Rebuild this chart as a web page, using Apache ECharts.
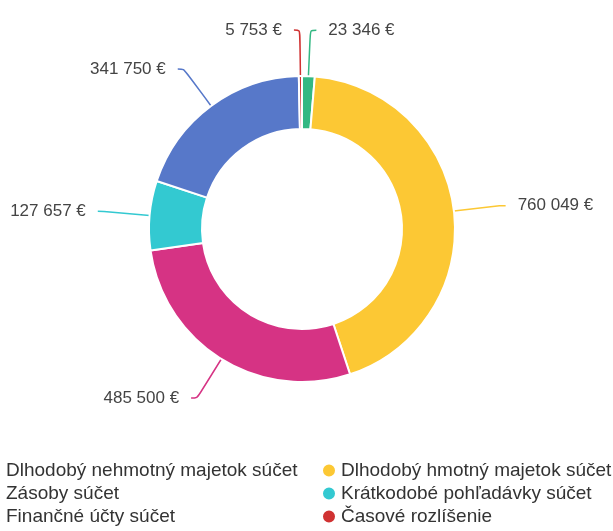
<!DOCTYPE html>
<html>
<head>
<meta charset="utf-8">
<script src="https://cdn.jsdelivr.net/npm/echarts@6/dist/echarts.min.js"></script>
<style>html,body{margin:0;padding:0;background:#fff;}#c{width:613px;height:531px;}</style>
</head>
<body>
<div id="c"></div>
<script>
const categories = [
  'Dlhodobý nehmotný majetok súčet',
  'Dlhodobý hmotný majetok súčet',
  'Zásoby súčet',
  'Krátkodobé pohľadávky súčet',
  'Finančné účty súčet',
  'Časové rozlíšenie'
];
const values = [23346, 760049, 485500, 127657, 341750, 5753];
const colors = ['#33b883', '#fcc834', '#d63384', '#33c9d1', '#5778c9', '#d03232'];
const leftLegend = [categories[0], categories[2], categories[4]];
const rightLegend = [categories[1], categories[3], categories[5]];

function fmt(v) {
  return String(v).replace(/\B(?=(\d{3})+(?!\d))/g, ' ') + ' €';
}

const chart = echarts.init(document.getElementById('c'));
const legendCommon = {
  orient: 'vertical',
  top: 461,
  padding: 0,
  icon: 'circle',
  itemWidth: 14,
  itemHeight: 14,
  itemGap: 4,
  textStyle: { fontFamily: 'Liberation Sans, Arial, sans-serif', fontSize: 19, color: '#333' }
};
chart.setOption({
  color: colors,
  animation: false,
  legend: [
    Object.assign({}, legendCommon, { left: -14, data: leftLegend }),
    Object.assign({}, legendCommon, { left: 321, data: rightLegend })
  ],
  series: [{
    type: 'pie',
    center: [302, 229],
    radius: [100, 153],
    startAngle: 90,
    clockwise: true,
    avoidLabelOverlap: true,
    itemStyle: { borderColor: '#fff', borderWidth: 2 },
    label: {
      show: true,
      formatter: p => fmt(p.value),
      fontFamily: 'Liberation Sans, Arial, sans-serif',
      fontSize: 17,
      color: '#444',
      distanceToLabelLine: 12
    },
    labelLine: { show: true, length: 46, length2: 6, smooth: true, lineStyle: { width: 1.5 } },
    data: categories.map((n, i) => ({ name: n, value: values[i] }))
  }]
});
</script>
</body>
</html>
